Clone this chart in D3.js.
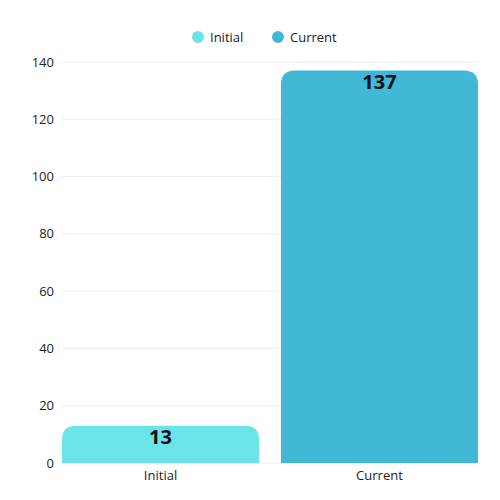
<!DOCTYPE html>
<html><head><meta charset="utf-8">
<script src="https://cdn.jsdelivr.net/npm/d3@7"></script>
<style>body{margin:0;background:#fff}text{font-family:"Open Sans",Lato,sans-serif}</style>
</head><body><svg id="c" width="500" height="500"></svg>
<script>
const categories = ["Initial","Current"];
const values = [13,137];
const colors = ["#6ae4e9","#42b8d7"];
const yTicks = [0,20,40,60,80,100,120,140];

const svg = d3.select("#c");
const x = d3.scaleBand().domain(categories).range([62,478]).paddingInner(0.1).paddingOuter(0.0);
const y = d3.scaleLinear().domain([0,140]).range([463,62]);

svg.append("g").selectAll("line").data(yTicks).join("line")
  .attr("x1",62).attr("x2",478).attr("y1",d=>y(d)).attr("y2",d=>y(d))
  .attr("stroke","#ececec").attr("stroke-width",1);
svg.append("g").selectAll("text").data(yTicks).join("text")
  .attr("x",54).attr("y",d=>y(d)).attr("dy","0.35em").attr("text-anchor","end")
  .attr("font-size",13).attr("fill","#222").text(d=>d);

const r = 14;
svg.append("g").selectAll("path").data(categories).join("path")
  .attr("fill",(d,i)=>colors[i])
  .attr("d",(d,i)=>{
    const x0=x(d), w=x.bandwidth(), t=y(values[i]), b=y(0);
    return `M${x0},${b}V${t+r}Q${x0},${t} ${x0+r},${t}H${x0+w-r}Q${x0+w},${t} ${x0+w},${t+r}V${b}Z`;
  });
svg.append("g").selectAll("text").data(categories).join("text")
  .attr("x",d=>x(d)+x.bandwidth()/2).attr("y",(d,i)=>y(values[i])+18)
  .attr("text-anchor","middle").attr("font-size",20).attr("font-weight","bold").attr("fill","#111")
  .text((d,i)=>values[i]);
svg.append("g").selectAll("text").data(categories).join("text")
  .attr("x",d=>x(d)+x.bandwidth()/2).attr("y",480)
  .attr("text-anchor","middle").attr("font-size",13).attr("fill","#222").text(d=>d);

const lx=[198,278];
const lg = svg.append("g").selectAll("g").data(categories).join("g")
  .attr("transform",(d,i)=>`translate(${lx[i]},37)`);
lg.append("circle").attr("r",6).attr("fill",(d,i)=>colors[i]);
lg.append("text").attr("x",12).attr("dy","0.35em").attr("font-size",13).attr("fill","#222").text(d=>d);
</script></body></html>
